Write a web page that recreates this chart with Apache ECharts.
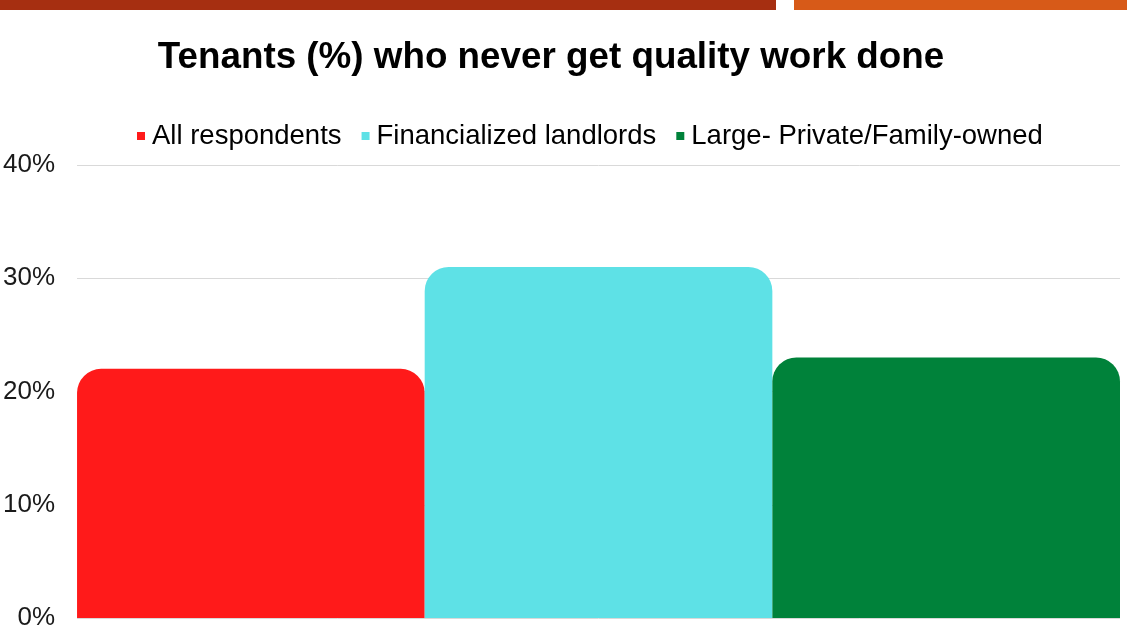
<!DOCTYPE html>
<html>
<head>
<meta charset="utf-8">
<script src="https://cdn.jsdelivr.net/npm/echarts@6/dist/echarts.min.js"></script>
<style>
  html, body { margin: 0; padding: 0; background: #fff; }
  #chart { width: 1127px; height: 631px; }
</style>
</head>
<body>
<div id="chart"></div>
<script>
// Share of tenants who never get quality work done, by landlord type
const categories = [''];
const seriesNames = ['All respondents', 'Financialized landlords', 'Large- Private/Family-owned'];
const seriesValues = [[22], [31], [23]];
const seriesColors = ['#FF1A1A', '#5EE1E6', '#00823A'];
const yTicks = { min: 0, max: 40, interval: 10 };

const chart = echarts.init(document.getElementById('chart'));
const font = '"Liberation Sans", Arial, sans-serif';

chart.setOption({
  animation: false,
  graphic: [
    { type: 'rect', shape: { x: 0, y: 0, width: 776, height: 10 }, style: { fill: '#A62F11' } },
    { type: 'rect', shape: { x: 794, y: 0, width: 333, height: 10 }, style: { fill: '#D75A18' } }
  ],
  title: {
    text: 'Tenants (%) who never get quality work done',
    left: 546, textAlign: 'center', top: 34,
    textStyle: { fontFamily: font, fontSize: 36.8, fontWeight: 'bold', color: '#000' }
  },
  legend: {
    left: 132, top: 117,
    icon: 'rect', itemWidth: 8, itemHeight: 8, itemGap: 20,
    textStyle: { fontFamily: font, fontSize: 27.5, color: '#000', padding: [0, 0, 0, 2] },
    data: seriesNames
  },
  grid: { left: 77, right: 7, top: 165, bottom: 9, containLabel: false },
  xAxis: {
    type: 'category', data: categories,
    axisLine: { show: false }, axisTick: { show: false }, axisLabel: { show: false }
  },
  yAxis: {
    type: 'value', min: yTicks.min, max: yTicks.max, interval: yTicks.interval,
    axisLine: { show: false }, axisTick: { show: false },
    axisLabel: { formatter: '{value}%', fontFamily: font, fontSize: 26, color: '#1a1a1a', margin: 22 },
    splitLine: { lineStyle: { color: '#D9D9D9', width: 1 } }
  },
  series: seriesNames.map((name, i) => ({
    name, type: 'bar', data: seriesValues[i],
    barGap: '0%', barCategoryGap: '0%',
    itemStyle: { color: seriesColors[i], borderRadius: [24, 24, 0, 0] }
  }))
});
</script>
</body>
</html>
